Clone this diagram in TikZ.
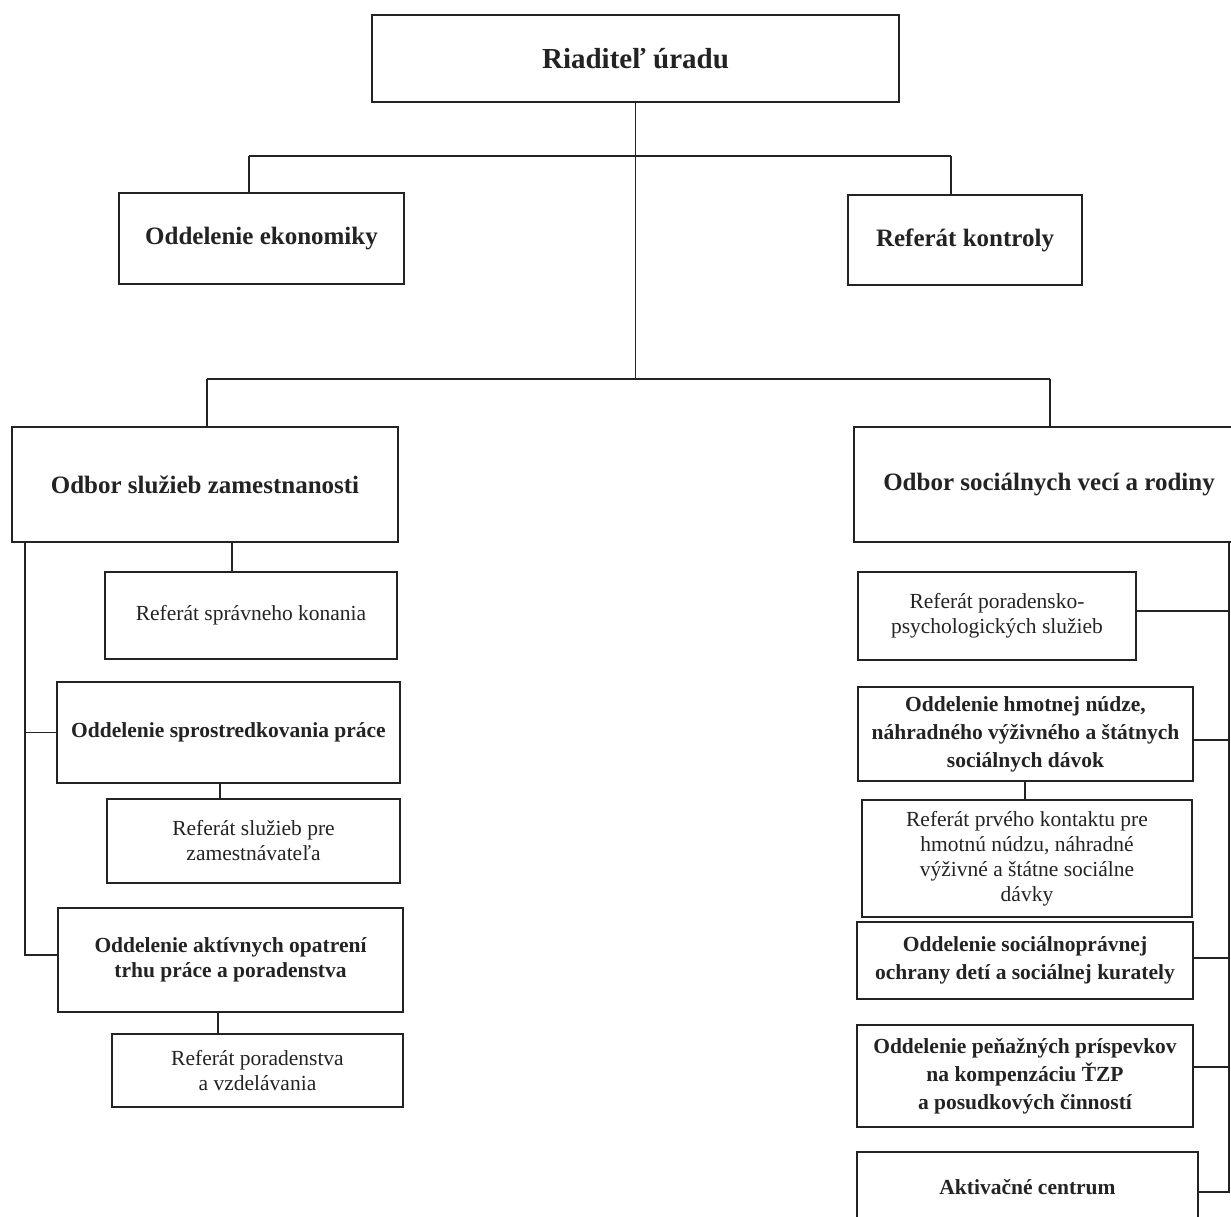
\documentclass[tikz,border=0pt]{standalone}
\usepackage{fontspec}
\setmainfont{Liberation Serif}
\definecolor{ink}{RGB}{35,35,35}
\tikzset{
  box/.style={draw=ink, text=ink, inner sep=0pt, outer sep=0pt, align=center},
  wh/.style 2 args={minimum width=#1pt, minimum height=#2pt},
  toplvl/.style={box, line width=2.2pt, font=\fontsize{29}{34}\selectfont\bfseries},
  mainlvl/.style={box, line width=2pt, font=\fontsize{25}{30}\selectfont\bfseries},
  subbold/.style={box, line width=1.6pt, font=\fontsize{21.5}{25}\selectfont\bfseries},
  rbold/.style={box, line width=1.8pt, font=\fontsize{21.5}{28}\selectfont\bfseries},
  subreg/.style={box, line width=1.3pt, font=\fontsize{21.5}{25}\selectfont},
  link/.style={draw=ink, line width=1.2pt},
}
\begin{document}
\begin{tikzpicture}[x=1pt,y=-1pt]
\useasboundingbox (0,0) rectangle (1231,1216);
\clip (0,0) rectangle (1231,1216);
\fill[white] (0,0) rectangle (1231,1216);

% top levels
\node[toplvl, wh={527}{87}] (top) at (635.5,58.5) {Riaditeľ úradu};
\node[mainlvl, wh={285}{91}] (ekon) at (261.5,238.5) {Oddelenie ekonomiky};
\node[mainlvl, wh={234}{90}] (kontr) at (965,240) {Referát kontroly};
\node[mainlvl, wh={386}{115}] (osz) at (205,484.5) {Odbor služieb zamestnanosti};
\node[mainlvl, wh={390}{115}] (osv) at (1049,484.5) {Odbor sociálnych vecí a rodiny};

% left column
\node[subreg, wh={292}{87}] (rsk) at (251,615.5) {Referát správneho konania};
\node[subbold, wh={343}{101}] (sprost) at (228.5,732.5) {Oddelenie sprostredkovania práce};
\node[subreg, wh={293}{84}] (rsz) at (253.5,841) {Referát služieb pre\\zamestnávateľa};
\node[subbold, wh={345}{104}] (aktiv) at (230.5,960) {Oddelenie aktívnych opatrení\\trhu práce a poradenstva};
\node[subreg, wh={291}{73}] (rpv) at (257.5,1070.5) {Referát poradenstva\\a vzdelávania};

% right column
\node[subreg, wh={278}{88}] (rpp) at (997,616) {Referát poradensko-\\psychologických služieb};
\node[rbold, wh={335}{94}] (hmot) at (1025.5,734) {Oddelenie hmotnej núdze,\\náhradného výživného a štátnych\\sociálnych dávok};
\node[subreg, wh={330}{117}] (rpk) at (1027,858.5) {Referát prvého kontaktu pre\\hmotnú núdzu, náhradné\\výživné a štátne sociálne\\dávky};
\node[rbold, wh={336}{77}] (soc) at (1025,960.5) {Oddelenie sociálnoprávnej\\ochrany detí a sociálnej kurately};
\node[rbold, wh={336}{102}] (pen) at (1025,1076) {Oddelenie peňažných príspevkov\\na kompenzáciu ŤZP\\a posudkových činností};
\node[rbold, wh={341}{70}] (akt) at (1027.5,1187) {Aktivačné centrum};

% connector coordinates
\coordinate (h1) at (249,156);
\coordinate (h2) at (951,156);
\coordinate (h3) at (207,379);
\coordinate (h4) at (1050,379);
\coordinate (ls) at (25,0);
\coordinate (c1) at (232,0);
\coordinate (c2) at (220,0);
\coordinate (c3) at (218,0);
\coordinate (c4) at (1025,0);
\coordinate (rs) at (1229,0);
\coordinate (ry1) at (0,611);
\coordinate (ry2) at (0,740);
\coordinate (ry3) at (0,958);
\coordinate (ry4) at (0,1067);
\coordinate (ry5) at (0,1192);
\coordinate (ly2) at (0,955);

% upper connectors
\draw[link] (top.south) -- (top.south |- h3);
\draw[link] (h1) -- (h2);
\draw[link] (h3) -- (h4);
\draw[link] (ekon.north -| h1) -- (h1);
\draw[link] (kontr.north -| h2) -- (h2);
\draw[link] (osz.north -| h3) -- (h3);
\draw[link] (osv.north -| h4) -- (h4);

% left connectors
\draw[link] (osz.south -| ls) -- (ls |- ly2) -- (aktiv.west |- ly2);
\draw[link] (sprost.west -| ls) -- (sprost.west);
\draw[link] (osz.south -| c1) -- (rsk.north -| c1);
\draw[link] (sprost.south -| c2) -- (rsz.north -| c2);
\draw[link] (aktiv.south -| c3) -- (rpv.north -| c3);

% right connectors
\draw[link] (osv.south -| rs) -- (rs |- ry5) -- (akt.east |- ry5);
\draw[link] (rpp.east |- ry1) -- (rs |- ry1);
\draw[link] (hmot.east |- ry2) -- (rs |- ry2);
\draw[link] (soc.east |- ry3) -- (rs |- ry3);
\draw[link] (pen.east |- ry4) -- (rs |- ry4);
\draw[link] (hmot.south -| c4) -- (rpk.north -| c4);
\end{tikzpicture}
\end{document}
